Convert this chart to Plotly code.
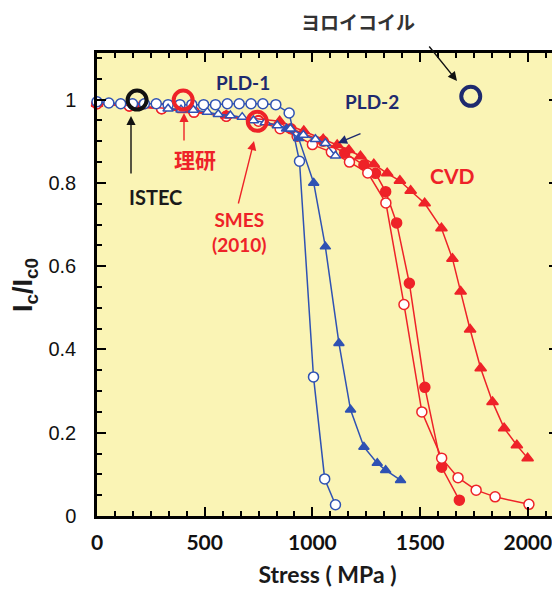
import plotly.graph_objects as go

# ---------------- data ----------------
# PLD-1 : blue open circles
pld1_x = [0, 55, 110, 165, 220, 275, 330, 385, 440, 495, 550, 605, 660, 715, 770, 830, 892, 940, 1005, 1057, 1107]
pld1_y = [0.995, 0.992, 0.99, 0.99, 0.99, 0.99, 0.988, 0.988, 0.988, 0.988, 0.988, 0.99, 0.99, 0.99, 0.99, 0.988, 0.968, 0.852, 0.334, 0.089, 0.027]

# PLD-2 : blue open triangles
pld2o_x = [330, 390, 447, 512, 563, 619, 674, 726, 781, 837, 898, 958, 1014, 1060, 1107]
pld2o_y = [0.978, 0.976, 0.975, 0.97, 0.965, 0.962, 0.958, 0.95, 0.945, 0.938, 0.93, 0.915, 0.905, 0.895, 0.865]

# PLD-2 : blue filled triangles
pld2f_x = [880, 936, 1006, 1060, 1123, 1177, 1239, 1301, 1340, 1409]
pld2f_y = [0.93, 0.907, 0.80, 0.647, 0.415, 0.255, 0.166, 0.127, 0.11, 0.086]

# SMES (2010) : red open circles
smes_o_x = [0, 150, 300, 450, 600, 750, 850, 929, 1000, 1088, 1172, 1257, 1341, 1425, 1508, 1600, 1676, 1760, 1848, 2005]
smes_o_y = [0.99, 0.985, 0.978, 0.97, 0.96, 0.948, 0.93, 0.912, 0.892, 0.874, 0.85, 0.824, 0.752, 0.508, 0.25, 0.139, 0.092, 0.062, 0.046, 0.028]

# red filled circles
smes_f_x = [0, 150, 300, 450, 600, 750, 900, 1050, 1150, 1239, 1293, 1340, 1391, 1450, 1522, 1600, 1682]
smes_f_y = [0.99, 0.985, 0.978, 0.97, 0.96, 0.95, 0.93, 0.9, 0.872, 0.843, 0.823, 0.779, 0.704, 0.559, 0.309, 0.117, 0.038]

# CVD : red filled triangles
cvd_x = [0, 200, 400, 600, 848, 960, 1050, 1115, 1169, 1223, 1285, 1347, 1406, 1456, 1521, 1599, 1650, 1688, 1732, 1781, 1836, 1890, 1949, 1999]
cvd_y = [0.99, 0.985, 0.975, 0.962, 0.948, 0.925, 0.905, 0.891, 0.879, 0.864, 0.845, 0.823, 0.805, 0.781, 0.751, 0.691, 0.618, 0.539, 0.448, 0.355, 0.274, 0.211, 0.170, 0.139]

# highlighted single points (big rings)
ring_labels = ["ISTEC", "理研", "SMES (2010)", "ヨロイコイル"]
ring_x = [186, 400, 744, 1735]
ring_y = [0.999, 0.999, 0.948, 1.008]

x_ticks = [0, 500, 1000, 1500, 2000]
y_ticks = [0, 0.2, 0.4, 0.6, 0.8, 1]
y_tick_text = ["0", "0.2", "0.4", "0.6", "0.8", "1"]

# ---------------- styling ----------------
RED = "#EE2228"
BLUE = "#2F52B3"
NAVY = "#1E2A6E"
BG = "#FAF4B5"
BOLD_FONT = "Lato, Noto Sans CJK JP, sans-serif"
CJK = "Noto Sans CJK JP, sans-serif"

# page offset of the figure (default body margin of the html page)
OFF = 8
W, H = 560, 597
# plot-area geometry in screen pixels (used only to place annotations)
L, R, T, B = 97, 558, 53, 516
XMAX, YMAX = 2140, 1.112

def px_to_paper(px, py):
    return (px - L) / (R - L), (B - py) / (B - T)

fig = go.Figure()

def add(x, y, symbol, color, fill, size):
    fig.add_trace(go.Scatter(
        x=x, y=y, mode="lines+markers",
        line=dict(color=color, width=1.5),
        marker=dict(symbol=symbol, size=size, color=fill,
                    line=dict(color=color, width=1.5)),
        showlegend=False, cliponaxis=False, hoverinfo="skip"))

add(smes_f_x, smes_f_y, "circle", RED, RED, 10)
add(smes_o_x, smes_o_y, "circle", RED, "white", 10)
add(cvd_x, cvd_y, "triangle-up", RED, RED, 10)
add(pld2f_x, pld2f_y, "triangle-up", BLUE, BLUE, 9)
add(pld1_x, pld1_y, "circle", BLUE, "white", 10)
add(pld2o_x, pld2o_y, "triangle-up", BLUE, "white", 9)

ring_colors = ["#111111", RED, RED, NAVY]
fig.add_trace(go.Scatter(
    x=ring_x, y=ring_y, mode="markers", text=ring_labels,
    marker=dict(symbol="circle-open", size=19, color=ring_colors,
                line=dict(width=4, color=ring_colors)),
    showlegend=False, cliponaxis=False, hoverinfo="skip"))

def arrow(p0, p1, color):
    x1, y1 = px_to_paper(*p1)
    fig.add_annotation(x=x1, y=y1, xref="paper", yref="paper",
                       ax=p0[0] - p1[0], ay=p0[1] - p1[1],
                       axref="pixel", ayref="pixel", text="", showarrow=True,
                       arrowhead=2, arrowsize=1.3, arrowwidth=1.4,
                       arrowcolor=color)

arrow((131, 175), (131, 116), "#111111")   # ISTEC
arrow((184, 142), (184, 113), RED)         # 理研
arrow((238, 205), (254, 141), RED)         # SMES
arrow((362, 133), (338, 143), NAVY)        # PLD-2
arrow((428, 45), (457, 81), "#111111")     # ヨロイコイル

def label(p, text, color, size, family=BOLD_FONT):
    x, y = px_to_paper(*p)
    fig.add_annotation(x=x, y=y, xref="paper", yref="paper", text=text,
                       showarrow=False, xanchor="center", yanchor="middle",
                       font=dict(family=family, size=size, color=color, weight="bold"))

label((243, 82), "PLD-1", NAVY, 19)
label((372, 102), "PLD-2", NAVY, 19)
label((452, 175), "CVD", RED, 21)
label((195, 159), "理研", RED, 21, CJK)
label((155, 197), "ISTEC", "#1a1a1a", 20)
label((239, 232), "SMES<br>(2010)", RED, 19)
label((358, 22), "ヨロイコイル", "#333333", 19, CJK)

# y axis title
tx, ty = px_to_paper(25, 285)
fig.add_annotation(xref="paper", yref="paper", x=tx, y=ty,
                   text="I<sub>c</sub>/I<sub>c0</sub>", textangle=-90, showarrow=False,
                   xanchor="center", yanchor="middle",
                   font=dict(family="Liberation Sans, Arial", size=27, color="#1a1a1a", weight="bold"))

fig.update_layout(
    width=W, height=H,
    margin=dict(l=L - OFF, r=W - (R - OFF), t=T - OFF, b=H - (B - OFF)),
    paper_bgcolor="white", plot_bgcolor=BG,
    showlegend=False,
)
fig.update_xaxes(
    range=[0, XMAX], tickmode="array", tickvals=x_ticks, automargin=False,
    ticks="inside", ticklen=9, tickwidth=2, tickcolor="black",
    minor=dict(dtick=500 / 6, ticks="inside", ticklen=5, tickwidth=2, tickcolor="black"),
    showline=True, linewidth=2.5, linecolor="black", mirror="allticks",
    showgrid=False, zeroline=False, ticklabelstandoff=6,
    tickfont=dict(family=BOLD_FONT, size=21, color="#111111", weight="bold"),
    title=dict(text="Stress ( MPa )", standoff=14,
               font=dict(family=BOLD_FONT, size=23, color="#1a1a1a", weight="bold")),
)
fig.update_yaxes(
    range=[0, YMAX], tickmode="array", tickvals=y_ticks, ticktext=y_tick_text, automargin=False,
    ticks="inside", ticklen=9, tickwidth=2, tickcolor="black",
    minor=dict(dtick=0.05, ticks="inside", ticklen=5, tickwidth=2, tickcolor="black"),
    showline=True, linewidth=2.5, linecolor="black", mirror="allticks",
    showgrid=False, zeroline=False,
    tickfont=dict(family="Liberation Sans, Arial", size=20, color="#111111"),
    ticklabelstandoff=14,
)

fig.write_html("out.html")
